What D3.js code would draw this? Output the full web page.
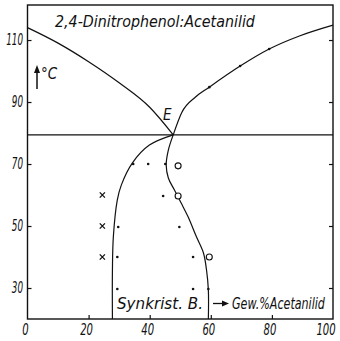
<!DOCTYPE html>
<html>
<head>
<meta charset="utf-8">
<script src="https://cdn.jsdelivr.net/npm/d3@7"></script>
<style>
  html, body { margin: 0; padding: 0; background: #fff; }
  svg { display: block; }
  text { font-family: "Liberation Sans Narrow", "DejaVu Sans Condensed", "Liberation Sans", sans-serif; font-style: italic; fill: #111; }
</style>
</head>
<body>
<svg id="chart" width="340" height="341"></svg>
<script>
// Melting diagram 2,4-Dinitrophenol : Acetanilid (weight % Acetanilid vs. °C)
const wtTicks = [0, 20, 40, 60, 80, 100];
const tempTicks = [30, 50, 70, 90, 110];

// liquidus branches meeting at the eutectic point E
const eutWt = 47.7, eutT = 79.4;
const liqLeftWt = [0, 10, 20, 30, 40, 47.7];
const liqLeftT  = [114, 109, 103, 96.2, 88.3, 79.4];
const liqRightWt = [47.7, 50.5, 55, 59.5, 69.6, 79.1, 89, 100];
const liqRightT  = [79.4, 86.6, 91.6, 94.8, 101.6, 107.1, 111.3, 114.8];

// boundaries of the mixed-crystal (Synkristall) region
const solLeftWt = [47.7, 39.9, 34.3, 30.7, 29.4, 28.1, 27.8, 27.8];
const solLeftT  = [79.4, 76.1, 70.3, 63.2, 58.4, 46.5, 35.8, 20];
const solRightWt = [47.7, 46.1, 45.4, 46.1, 48.1, 50.3, 52.6, 55.3, 57.6, 58.6, 59.2, 59.2];
const solRightT  = [79.4, 74.5, 69.7, 65.5, 61.6, 57.4, 52.9, 46.5, 41.3, 35.8, 29.4, 20];

// measured points
const dotWt = [34.6, 39.5, 45.1, 44.4, 29.7, 49.7, 29.4, 54.2, 29.4, 54.2, 59.2, 59.5, 69.6, 79.1];
const dotT  = [70, 70, 70, 59.7, 49.7, 49.7, 40, 40, 29.7, 29.7, 29.7, 94.8, 101.6, 107.1];
const crossWt = [24.5, 24.5, 24.5];
const crossT  = [60, 50, 40];
const ringWt = [49.3, 49.3, 59.5];
const ringT  = [69.4, 59.7, 40];

const svg = d3.select("#chart");
const x = d3.scaleLinear().domain([0, 100]).range([27.5, 333]);
const y = d3.scaleLinear().domain([20, 121.3]).range([319, 5]);

const ink = "#111";

// narrow italic text: horizontally compressed to a given width
function narrowText(parent, px, py, str, width, anchor, size) {
  const t = parent.append("text").attr("font-size", size || 15).text(str);
  const natural = t.node().getComputedTextLength() || width;
  const k = width / natural;
  const dx = anchor === "end" ? -width : anchor === "middle" ? -width / 2 : 0;
  t.attr("transform", `translate(${px + dx},${py}) scale(${k},1)`);
  return t;
}

// frame
svg.append("rect")
  .attr("x", x(0)).attr("y", y(121.3))
  .attr("width", x(100) - x(0)).attr("height", y(20) - y(121.3))
  .attr("fill", "none").attr("stroke", ink).attr("stroke-width", 1.4);

// inward ticks on left, right and bottom
svg.append("g").attr("transform", `translate(${x(0)},0)`)
  .call(d3.axisRight(y).tickValues(tempTicks).tickSize(4).tickFormat(""))
  .call(g => g.select(".domain").remove())
  .call(g => g.selectAll("line").attr("stroke", ink).attr("stroke-width", 1.2));
svg.append("g").attr("transform", `translate(${x(100)},0)`)
  .call(d3.axisLeft(y).tickValues(tempTicks).tickSize(4).tickFormat(""))
  .call(g => g.select(".domain").remove())
  .call(g => g.selectAll("line").attr("stroke", ink).attr("stroke-width", 1.2));
svg.append("g").attr("transform", `translate(0,${y(20)})`)
  .call(d3.axisTop(x).tickValues(wtTicks.slice(1, -1)).tickSize(4).tickFormat(""))
  .call(g => g.select(".domain").remove())
  .call(g => g.selectAll("line").attr("stroke", ink).attr("stroke-width", 1.2));

// tick labels
const yLab = svg.append("g");
tempTicks.forEach(d => narrowText(yLab, 23, y(d) + 5, String(d), String(d).length * 5.6, "end"));
const xLab = svg.append("g");
wtTicks.forEach(d => narrowText(xLab, Math.min(x(d) - 2, 326), 335, String(d), String(d).length * 6.4, "middle"));

// eutectic horizontal
svg.append("line")
  .attr("x1", x(0)).attr("x2", x(100))
  .attr("y1", y(eutT)).attr("y2", y(eutT))
  .attr("stroke", ink).attr("stroke-width", 1.3);

const toPts = (ws, ts) => ws.map((w, i) => [x(w), y(ts[i])]);
const monotone = d3.line().curve(d3.curveMonotoneX);
const smooth = d3.line().curve(d3.curveCatmullRom.alpha(0.5));

[[liqLeftWt, liqLeftT], [liqRightWt, liqRightT]].forEach(([ws, ts]) => {
  svg.append("path").attr("d", monotone(toPts(ws, ts)))
    .attr("fill", "none").attr("stroke", ink).attr("stroke-width", 1.2);
});
[[solLeftWt, solLeftT], [solRightWt, solRightT]].forEach(([ws, ts]) => {
  svg.append("path").attr("d", smooth(toPts(ws, ts)))
    .attr("fill", "none").attr("stroke", ink).attr("stroke-width", 1.2);
});

// markers
svg.append("g").selectAll("circle").data(dotWt).join("circle")
  .attr("cx", (d, i) => x(d)).attr("cy", (d, i) => y(dotT[i]))
  .attr("r", 1.3).attr("fill", ink);
svg.append("g").selectAll("circle").data(ringWt).join("circle")
  .attr("cx", (d, i) => x(d)).attr("cy", (d, i) => y(ringT[i]))
  .attr("r", 3).attr("fill", "#fff").attr("stroke", ink).attr("stroke-width", 1.1);
svg.append("g").selectAll("path").data(crossWt).join("path")
  .attr("d", (d, i) => {
    const cx = x(d), cy = y(crossT[i]), s = 2.6;
    return `M${cx - s},${cy - s}L${cx + s},${cy + s}M${cx + s},${cy - s}L${cx - s},${cy + s}`;
  })
  .attr("stroke", ink).attr("stroke-width", 1.3).attr("fill", "none");

// labels
narrowText(svg, 55, 27, "2,4-Dinitrophenol:Acetanilid", 200, "start");
svg.append("text").attr("x", 163).attr("y", 120).attr("font-size", 15).text("E");
narrowText(svg, 117, 309, "Synkrist. B.", 86, "start");
narrowText(svg, 232, 309, "Gew.%Acetanilid", 93, "start");
svg.append("text").attr("x", 41).attr("y", 79).attr("font-size", 15).text("°C");

// arrows
svg.append("line").attr("x1", 213).attr("x2", 224).attr("y1", 303.5).attr("y2", 303.5)
  .attr("stroke", ink).attr("stroke-width", 1.3);
svg.append("path").attr("d", "M229,303.5L222,300.5L222,306.5Z").attr("fill", ink);
svg.append("line").attr("x1", 37).attr("x2", 37).attr("y1", 89).attr("y2", 71)
  .attr("stroke", ink).attr("stroke-width", 1.5);
svg.append("path").attr("d", "M37,65L34,73L40,73Z").attr("fill", ink);
</script>
</body>
</html>
